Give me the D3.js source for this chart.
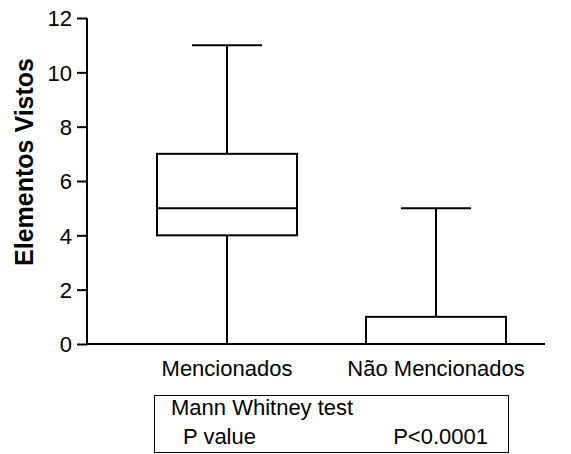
<!DOCTYPE html>
<html>
<head>
<meta charset="utf-8">
<script src="https://cdn.jsdelivr.net/npm/d3@7"></script>
<style>
  body { margin: 0; background: #fff; }
  text { font-family: "Liberation Sans", Arial, sans-serif; fill: #000; }
</style>
</head>
<body>
<svg id="chart"></svg>
<script>
// data
const categories = ["Mencionados", "Não Mencionados"];
const mins = [0, 0];
const q1s = [4, 0];
const medians = [5, 0];
const q3s = [7, 1];
const maxs = [11, 5];
const yTicks = [0, 2, 4, 6, 8, 10, 12];
const testTitle = "Mann Whitney test";
const testRows = [["P value", "P<0.0001"]];

const width = 571, height = 454;
const svg = d3.select("#chart").attr("width", width).attr("height", height);

// box centres: 227 and 436
const xc = d3.scalePoint().domain(categories).range([227, 436]);
const boxW = 140, capW = 70;

const y = d3.scaleLinear().domain([0, 12]).range([344, 18]);

// y axis
const yAxis = svg.append("g")
  .attr("transform", "translate(87,0)")
  .call(d3.axisLeft(y).tickValues(yTicks).tickSize(10).tickPadding(5).tickFormat(d3.format("d")));
yAxis.select(".domain").attr("stroke-width", 2).attr("d", `M0,${y(12)}V${y(0)}`);
yAxis.selectAll(".tick line").attr("stroke-width", 2);
yAxis.selectAll(".tick text").style("font-size", "22px").attr("fill", "#000").attr("dy", "0.36em");

// x axis line
svg.append("line")
  .attr("x1", 87).attr("x2", 545)
  .attr("y1", y(0)).attr("y2", y(0))
  .attr("stroke", "#000").attr("stroke-width", 2);

// category labels
svg.selectAll(".cat")
  .data(categories)
  .enter()
  .append("text")
  .attr("class", "cat")
  .attr("x", d => xc(d))
  .attr("y", 376)
  .attr("text-anchor", "middle")
  .style("font-size", "22px")
  .text(d => d);

// y title
svg.append("text")
  .attr("transform", "translate(33,162) rotate(-90)")
  .attr("text-anchor", "middle")
  .style("font-size", "25px")
  .style("font-weight", "bold")
  .text("Elementos Vistos");

// boxes
const boxes = svg.selectAll(".box")
  .data(categories.map((c, i) => ({ c, min: mins[i], q1: q1s[i], med: medians[i], q3: q3s[i], max: maxs[i] })))
  .enter()
  .append("g")
  .attr("class", "box")
  .attr("stroke", "#000")
  .attr("stroke-width", 2)
  .attr("fill", "none");

boxes.append("line")
  .attr("x1", d => xc(d.c)).attr("x2", d => xc(d.c))
  .attr("y1", d => y(d.max)).attr("y2", d => y(d.q3));
boxes.append("line")
  .attr("x1", d => xc(d.c)).attr("x2", d => xc(d.c))
  .attr("y1", d => y(d.q1)).attr("y2", d => y(d.min));
boxes.append("line")
  .attr("x1", d => xc(d.c) - capW / 2).attr("x2", d => xc(d.c) + capW / 2)
  .attr("y1", d => y(d.max)).attr("y2", d => y(d.max));
boxes.append("line")
  .attr("x1", d => xc(d.c) - capW / 2).attr("x2", d => xc(d.c) + capW / 2)
  .attr("y1", d => y(d.min)).attr("y2", d => y(d.min));
boxes.append("rect")
  .attr("x", d => xc(d.c) - boxW / 2)
  .attr("width", boxW)
  .attr("y", d => y(d.q3))
  .attr("height", d => y(d.q1) - y(d.q3));
boxes.append("line")
  .attr("x1", d => xc(d.c) - boxW / 2).attr("x2", d => xc(d.c) + boxW / 2)
  .attr("y1", d => y(d.med)).attr("y2", d => y(d.med));

// stats table
const tbl = svg.append("g");
tbl.append("rect")
  .attr("x", 154.5).attr("y", 395.5)
  .attr("width", 354).attr("height", 57)
  .attr("fill", "none").attr("stroke", "#000").attr("stroke-width", 1);
tbl.append("text")
  .attr("x", 171).attr("y", 415)
  .style("font-size", "22px")
  .text(testTitle);
testRows.forEach((r, i) => {
  tbl.append("text")
    .attr("x", 183).attr("y", 444 + i * 29)
    .style("font-size", "22px")
    .text(r[0]);
  tbl.append("text")
    .attr("x", 488).attr("y", 444 + i * 29)
    .attr("text-anchor", "end")
    .style("font-size", "22px")
    .text(r[1]);
});
</script>
</body>
</html>
